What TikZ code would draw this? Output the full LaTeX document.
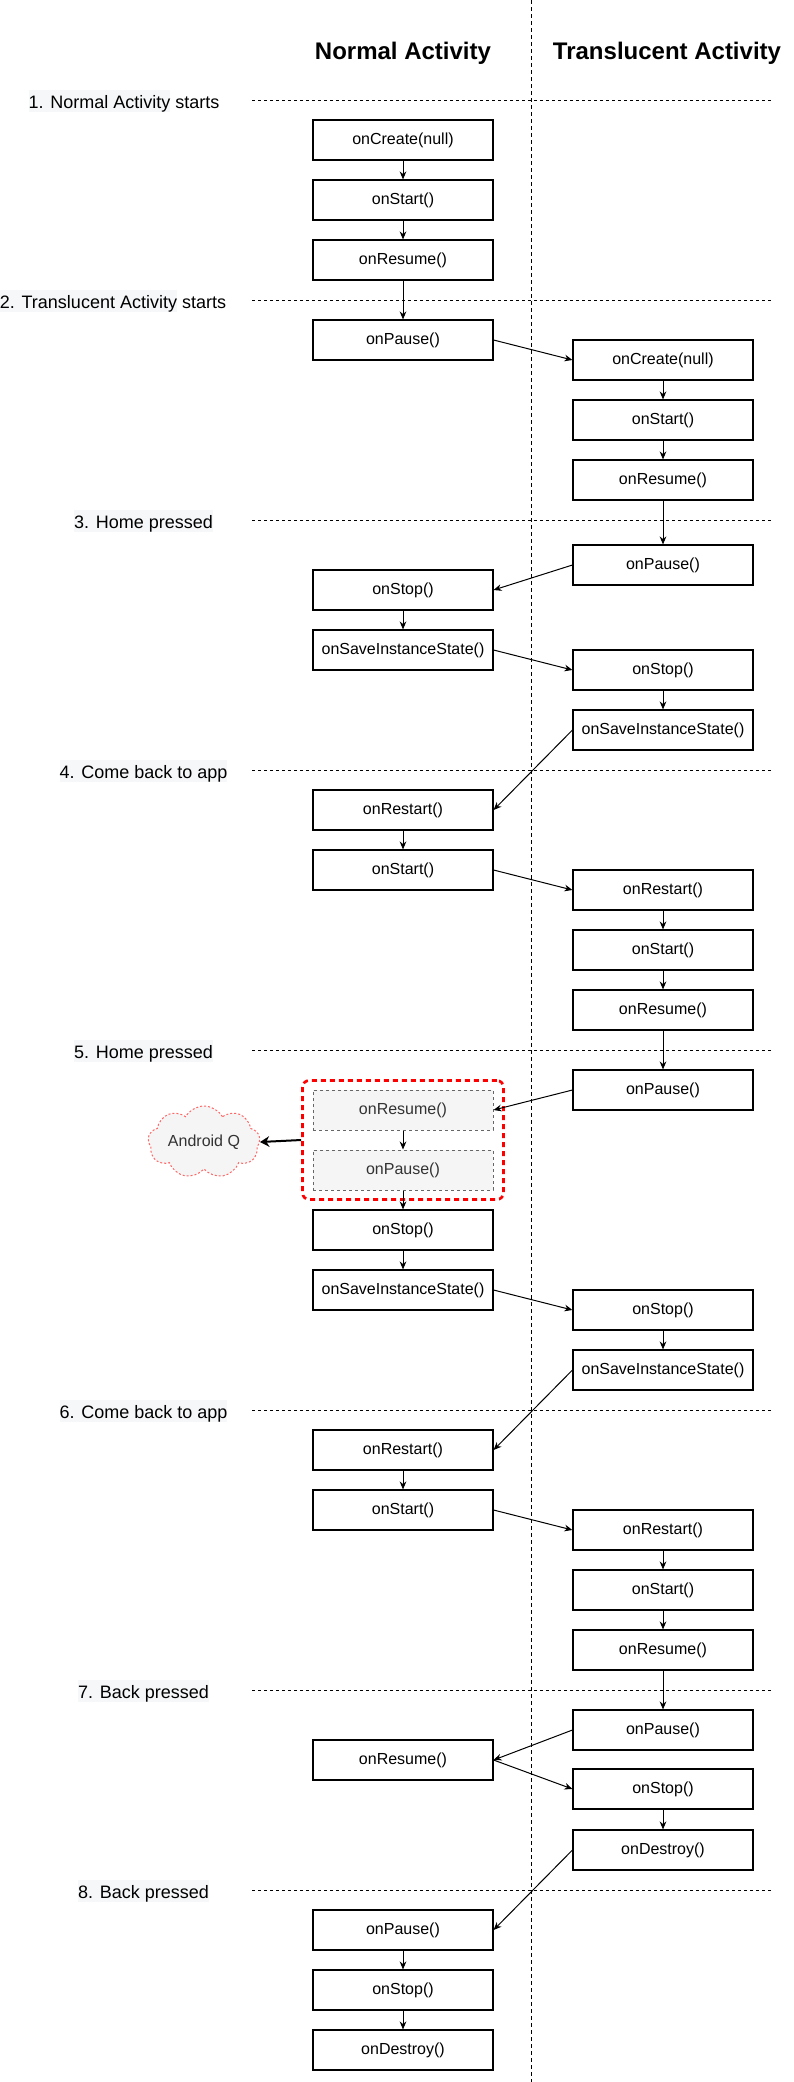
\documentclass[tikz,border=0pt]{standalone}
\usepackage{fontspec}
\setmainfont{Liberation Sans}
\usetikzlibrary{arrows.meta, positioning, shapes.symbols}

\definecolor{hlgray}{RGB}{246,247,249}
\definecolor{qfill}{RGB}{245,245,245}
\definecolor{qline}{RGB}{102,102,102}
\definecolor{qtext}{RGB}{51,51,51}
\definecolor{cloudred}{RGB}{255,102,102}

\newcommand{\hlbox}[1]{{\setlength{\fboxsep}{0pt}\colorbox{hlgray}{\rule[-0.19em]{0pt}{1.17em}#1}}}

\begin{document}
\begin{tikzpicture}[
  x=0.75pt, y=-0.75pt,
  box/.style={draw, fill=white, line width=0.85pt,
              minimum width=135pt, minimum height=30pt,
              inner sep=0pt, align=center, font=\fontsize{12}{14}\selectfont},
  qbox/.style={box, draw=qline, fill=qfill, text=qtext, line width=0.75pt,
               dash pattern=on 2.25pt off 2.25pt},
  stagelbl/.style={anchor=base, inner sep=0pt, font=\fontsize{13.5}{16}\selectfont},
  head/.style={anchor=base, inner sep=0pt, font=\fontsize{18}{21}\selectfont\bfseries},
  lane/.style={line width=0.75pt, dash pattern=on 2.25pt off 2.25pt},
  flow/.style={line width=0.75pt, -{Stealth[length=6pt, width=5pt]}}
]
  \useasboundingbox (0,0) rectangle (793,2082);

  % lanes
  \draw[line width=0.75pt, dash pattern=on 3pt off 2.25pt] (531,0) -- (531,2082);
  \draw[lane] (252,100)  -- (773,100);
  \draw[lane] (252,300)  -- (773,300);
  \draw[lane] (252,520)  -- (773,520);
  \draw[lane] (252,770)  -- (773,770);
  \draw[lane] (252,1050) -- (773,1050);
  \draw[lane] (252,1410) -- (773,1410);
  \draw[lane] (252,1690) -- (773,1690);
  \draw[lane] (252,1890) -- (773,1890);

  \node[head] (hnorm)  at (403,59) {Normal Activity};
  \node[head] (htrans) at (667,59) {Translucent Activity};

  \node[stagelbl] (s1) at (124,108)   {\hlbox{1. Normal Activity} starts};
  \node[stagelbl] (s2) at (113,308)   {\hlbox{2. Translucent Activity} starts};
  \node[stagelbl] (s3) at (143.5,528) {\hlbox{3. Home pressed}};
  \node[stagelbl] (s4) at (143.5,778) {\hlbox{4. Come back to app}};
  \node[stagelbl] (s5) at (143.5,1058) {\hlbox{5. Home pressed}};
  \node[stagelbl] (s6) at (143.5,1418) {\hlbox{6. Come back to app}};
  \node[stagelbl] (s7) at (143.5,1698) {\hlbox{7. Back pressed}};
  \node[stagelbl] (s8) at (143.5,1898) {\hlbox{8. Back pressed}};

  % 1 + 2
  \node[box] (n1create) at (403,140) {onCreate(null)};
  \node[box] (n1start)  at (403,200) {onStart()};
  \node[box] (n1resume) at (403,260) {onResume()};
  \node[box] (n2pause)  at (403,340) {onPause()};
  \node[box] (t2create) at (663,360) {onCreate(null)};
  \node[box] (t2start)  at (663,420) {onStart()};
  \node[box] (t2resume) at (663,480) {onResume()};

  % 3 + 4
  \node[box] (t3pause)   at (663,565) {onPause()};
  \node[box] (n3stop)    at (403,590) {onStop()};
  \node[box] (n3save)    at (403,650) {onSaveInstanceState()};
  \node[box] (t3stop)    at (663,670) {onStop()};
  \node[box] (t3save)    at (663,730) {onSaveInstanceState()};
  \node[box] (n4restart) at (403,810) {onRestart()};
  \node[box] (n4start)   at (403,870) {onStart()};
  \node[box] (t4restart) at (663,890) {onRestart()};
  \node[box] (t4start)   at (663,950) {onStart()};
  \node[box] (t4resume)  at (663,1010) {onResume()};

  % 5 + 6
  \node[box] (t5pause) at (663,1090) {onPause()};
  \node[draw=red, line width=2pt, dash pattern=on 3.75pt off 3pt, rounded corners=5pt,
        minimum width=150.75pt, minimum height=89.25pt] (grp) at (403,1140) {};
  \node[qbox] (q5resume) at (403,1110) {onResume()};
  \node[qbox] (q5pause)  at (403,1170) {onPause()};
  \node[cloud, cloud puffs=9, cloud puff arc=120, cloud ignores aspect,
        draw=cloudred, fill=qfill, text=qtext, line width=0.75pt,
        dash pattern=on 1.5pt off 1.5pt,
        minimum width=84pt, minimum height=54pt, inner sep=0pt,
        font=\fontsize{12}{14}\selectfont] (andq) at (204,1142) {Android Q};
  \node[box] (n5stop)    at (403,1230) {onStop()};
  \node[box] (n5save)    at (403,1290) {onSaveInstanceState()};
  \node[box] (t5stop)    at (663,1310) {onStop()};
  \node[box] (t5save)    at (663,1370) {onSaveInstanceState()};
  \node[box] (n6restart) at (403,1450) {onRestart()};
  \node[box] (n6start)   at (403,1510) {onStart()};
  \node[box] (t6restart) at (663,1530) {onRestart()};
  \node[box] (t6start)   at (663,1590) {onStart()};
  \node[box] (t6resume)  at (663,1650) {onResume()};

  % 7 + 8
  \node[box] (t7pause)   at (663,1730) {onPause()};
  \node[box] (n7resume)  at (403,1760) {onResume()};
  \node[box] (t7stop)    at (663,1789) {onStop()};
  \node[box] (t7destroy) at (663,1850) {onDestroy()};
  \node[box] (n8pause)   at (403,1930) {onPause()};
  \node[box] (n8stop)    at (403,1990) {onStop()};
  \node[box] (n8destroy) at (403,2050) {onDestroy()};

  \draw[flow] (n1create) -- (n1start);
  \draw[flow] (n1start) -- (n1resume);
  \draw[flow] (n1resume) -- (n2pause);
  \draw[flow] (n2pause.east) -- (t2create.west);
  \draw[flow] (t2create) -- (t2start);
  \draw[flow] (t2start) -- (t2resume);
  \draw[flow] (t2resume) -- (t3pause);
  \draw[flow] (t3pause.west) -- (n3stop.east);
  \draw[flow] (n3stop) -- (n3save);
  \draw[flow] (n3save.east) -- (t3stop.west);
  \draw[flow] (t3stop) -- (t3save);
  \draw[flow] (t3save.west) -- (n4restart.east);
  \draw[flow] (n4restart) -- (n4start);
  \draw[flow] (n4start.east) -- (t4restart.west);
  \draw[flow] (t4restart) -- (t4start);
  \draw[flow] (t4start) -- (t4resume);
  \draw[flow] (t4resume) -- (t5pause);
  \draw[flow] (t5pause.west) -- (q5resume.east);
  \draw[flow] (q5resume) -- (q5pause);
  \draw[flow] (q5pause) -- (n5stop);
  \draw[line width=1.5pt, -{Stealth[length=7pt, width=8pt]}] (grp.west) -- (andq.east);
  \draw[flow] (n5stop) -- (n5save);
  \draw[flow] (n5save.east) -- (t5stop.west);
  \draw[flow] (t5stop) -- (t5save);
  \draw[flow] (t5save.west) -- (n6restart.east);
  \draw[flow] (n6restart) -- (n6start);
  \draw[flow] (n6start.east) -- (t6restart.west);
  \draw[flow] (t6restart) -- (t6start);
  \draw[flow] (t6start) -- (t6resume);
  \draw[flow] (t6resume) -- (t7pause);
  \draw[flow] (t7pause.west) -- (n7resume.east);
  \draw[flow] (n7resume.east) -- (t7stop.west);
  \draw[flow] (t7stop) -- (t7destroy);
  \draw[flow] (t7destroy.west) -- (n8pause.east);
  \draw[flow] (n8pause) -- (n8stop);
  \draw[flow] (n8stop) -- (n8destroy);
\end{tikzpicture}
\end{document}
